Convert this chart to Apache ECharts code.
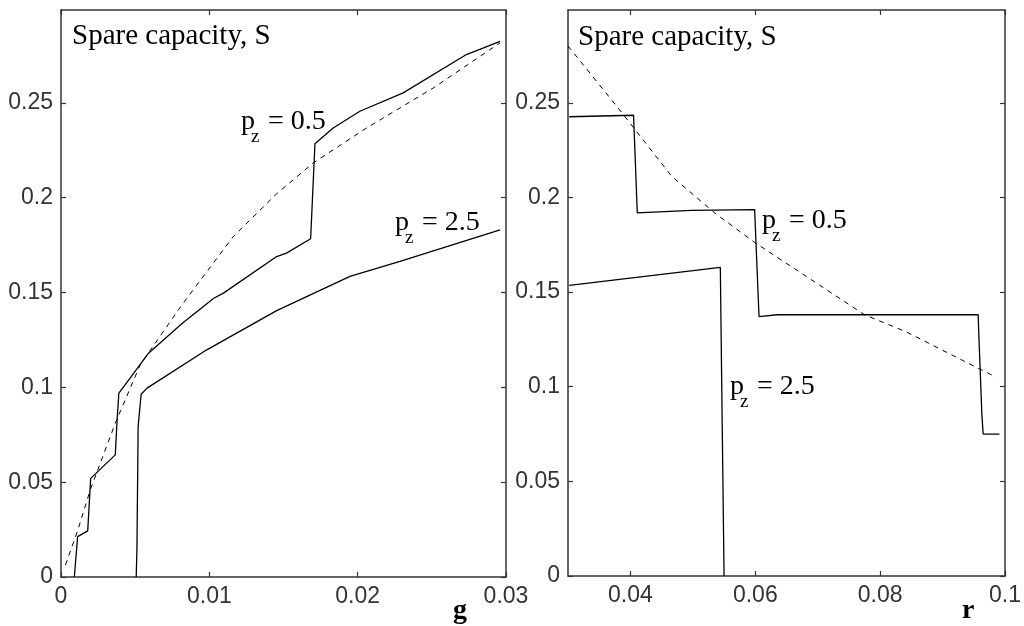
<!DOCTYPE html>
<html>
<head>
<meta charset="utf-8">
<script src="https://cdn.jsdelivr.net/npm/echarts@6/dist/echarts.min.js"></script>
<style>
  html, body { margin: 0; padding: 0; background: #fff; }
  #chart { width: 1024px; height: 626px; }
</style>
</head>
<body>
<div id="chart"></div>
<script>
// left panel: spare capacity S against g
const gLow = [[0.0009, 0], [0.00112, 0.0213], [0.0018, 0.0243], [0.002, 0.052], [0.00366, 0.0644],
  [0.00377, 0.081], [0.0039, 0.097], [0.00467, 0.105], [0.0059, 0.118], [0.0082, 0.134],
  [0.0103, 0.147], [0.01095, 0.1497], [0.01454, 0.169], [0.0152, 0.1708], [0.01683, 0.1784],
  [0.01712, 0.2285], [0.01835, 0.2368], [0.02015, 0.2456], [0.02307, 0.2553], [0.02733, 0.2755],
  [0.0296, 0.2825]];
const gHigh = [[0.00507, 0], [0.00512, 0.015], [0.0052, 0.0793], [0.0054, 0.0964], [0.0058, 0.0996],
  [0.00983, 0.1198], [0.01454, 0.1405], [0.01948, 0.1585], [0.02285, 0.1664], [0.0296, 0.1831]];
const gDashed = [[0.0003, 0.0063], [0.00114, 0.0248], [0.00197, 0.0459], [0.00366, 0.0811],
  [0.00534, 0.1119], [0.00815, 0.1435], [0.01162, 0.1796], [0.01454, 0.2021], [0.017, 0.2183],
  [0.0206, 0.2368], [0.0251, 0.2579], [0.0296, 0.2817]];

// right panel: spare capacity S against r
const rLow = [[0.0302, 0.2426], [0.0405, 0.2434], [0.0406, 0.235], [0.0411, 0.1918], [0.0498, 0.1932],
  [0.0599, 0.1935], [0.06, 0.185], [0.0606, 0.137], [0.0635, 0.138], [0.0957, 0.138],
  [0.0958, 0.128], [0.0963, 0.085], [0.0965, 0.075], [0.0991, 0.075]];
const rHigh = [[0.0302, 0.1535], [0.0544, 0.163], [0.0545, 0.1353], [0.0547, 0.08], [0.055, 0]];
const rDashed = [[0.03, 0.28], [0.0382, 0.2465], [0.0466, 0.2112], [0.0535, 0.1918], [0.0599, 0.1762],
  [0.0682, 0.1582], [0.0775, 0.138], [0.0841, 0.1291], [0.0962, 0.1089], [0.0986, 0.105]];

// tick labels
const gTicks = [0, 0.01, 0.02, 0.03];
const rTicks = [0.04, 0.06, 0.08, 0.1];
const sTicks = [0, 0.05, 0.1, 0.15, 0.2, 0.25];

const axisColor = "#333";
const tickFont = { fontFamily: "Liberation Sans", fontSize: 23, color: "#333" };
const serif = "Liberation Serif";

function makeAxis(grid, pos, min, max, ticks, labels) {
  return {
    type: "value",
    gridIndex: grid,
    position: pos,
    min: min,
    max: max,
    axisLine: { show: true, onZero: false, lineStyle: { color: axisColor, width: 1.5 } },
    axisTick: { show: true, inside: true, length: 5, customValues: ticks,
      lineStyle: { color: axisColor, width: 1.2 } },
    axisLabel: { show: labels, customValues: ticks, margin: pos === "left" ? 8 : 8, ...tickFont },
    splitLine: { show: false },
  };
}

function line(data, xi, yi, dashed) {
  return {
    type: "line",
    xAxisIndex: xi,
    yAxisIndex: yi,
    data: data,
    showSymbol: false,
    animation: false,
    lineStyle: { color: "#000", width: dashed ? 1 : 1.3, type: dashed ? [5, 5] : "solid" },
  };
}

// p with subscript z, then "= value"
function pzLabel(x, y, val) {
  return [
    { type: "text", x: x, y: y, style: { text: "p", font: "28px " + serif, fill: "#000", verticalAlign: "middle", textVerticalAlign: "middle" } },
    { type: "text", x: x + 10, y: y + 15, style: { text: "z", font: "19px " + serif, fill: "#000", verticalAlign: "middle", textVerticalAlign: "middle" } },
    { type: "text", x: x + 27, y: y, style: { text: "= " + val, font: "28px " + serif, fill: "#000", verticalAlign: "middle", textVerticalAlign: "middle" } },
  ];
}

function plainText(x, y, text, font) {
  return { type: "text", x: x, y: y, style: { text: text, font: font, fill: "#000", verticalAlign: "middle", textVerticalAlign: "middle" } };
}

const chart = echarts.init(document.getElementById("chart"), null, { renderer: "canvas" });
chart.setOption({
  animation: false,
  grid: [
    { left: 61, top: 10, width: 445, height: 567 },
    { left: 568, top: 10, width: 442, height: 566 },
  ],
  xAxis: [
    makeAxis(0, "bottom", 0, 0.03, gTicks, true),
    makeAxis(0, "top", 0, 0.03, gTicks, false),
    makeAxis(1, "bottom", 0.03, 0.1, rTicks, true),
    makeAxis(1, "top", 0.03, 0.1, rTicks, false),
  ],
  yAxis: [
    makeAxis(0, "left", 0, 0.299, sTicks, true),
    makeAxis(0, "right", 0, 0.299, sTicks, false),
    makeAxis(1, "left", 0, 0.299, sTicks, true),
    makeAxis(1, "right", 0, 0.299, sTicks, false),
  ],
  series: [
    line(gLow, 0, 0, false),
    line(gHigh, 0, 0, false),
    line(gDashed, 0, 0, true),
    line(rLow, 2, 2, false),
    line(rHigh, 2, 2, false),
    line(rDashed, 2, 2, true),
  ],
  graphic: [
    plainText(72, 36, "Spare capacity, S", "29px " + serif),
    plainText(578, 37, "Spare capacity, S", "29px " + serif),
    ...pzLabel(241, 122, "0.5"),
    ...pzLabel(395, 223, "2.5"),
    ...pzLabel(762, 221, "0.5"),
    ...pzLabel(730, 387, "2.5"),
    plainText(453, 611, "g", "bold 28px " + serif),
    plainText(962, 611, "r", "bold 28px " + serif),
  ],
});
</script>
</body>
</html>
